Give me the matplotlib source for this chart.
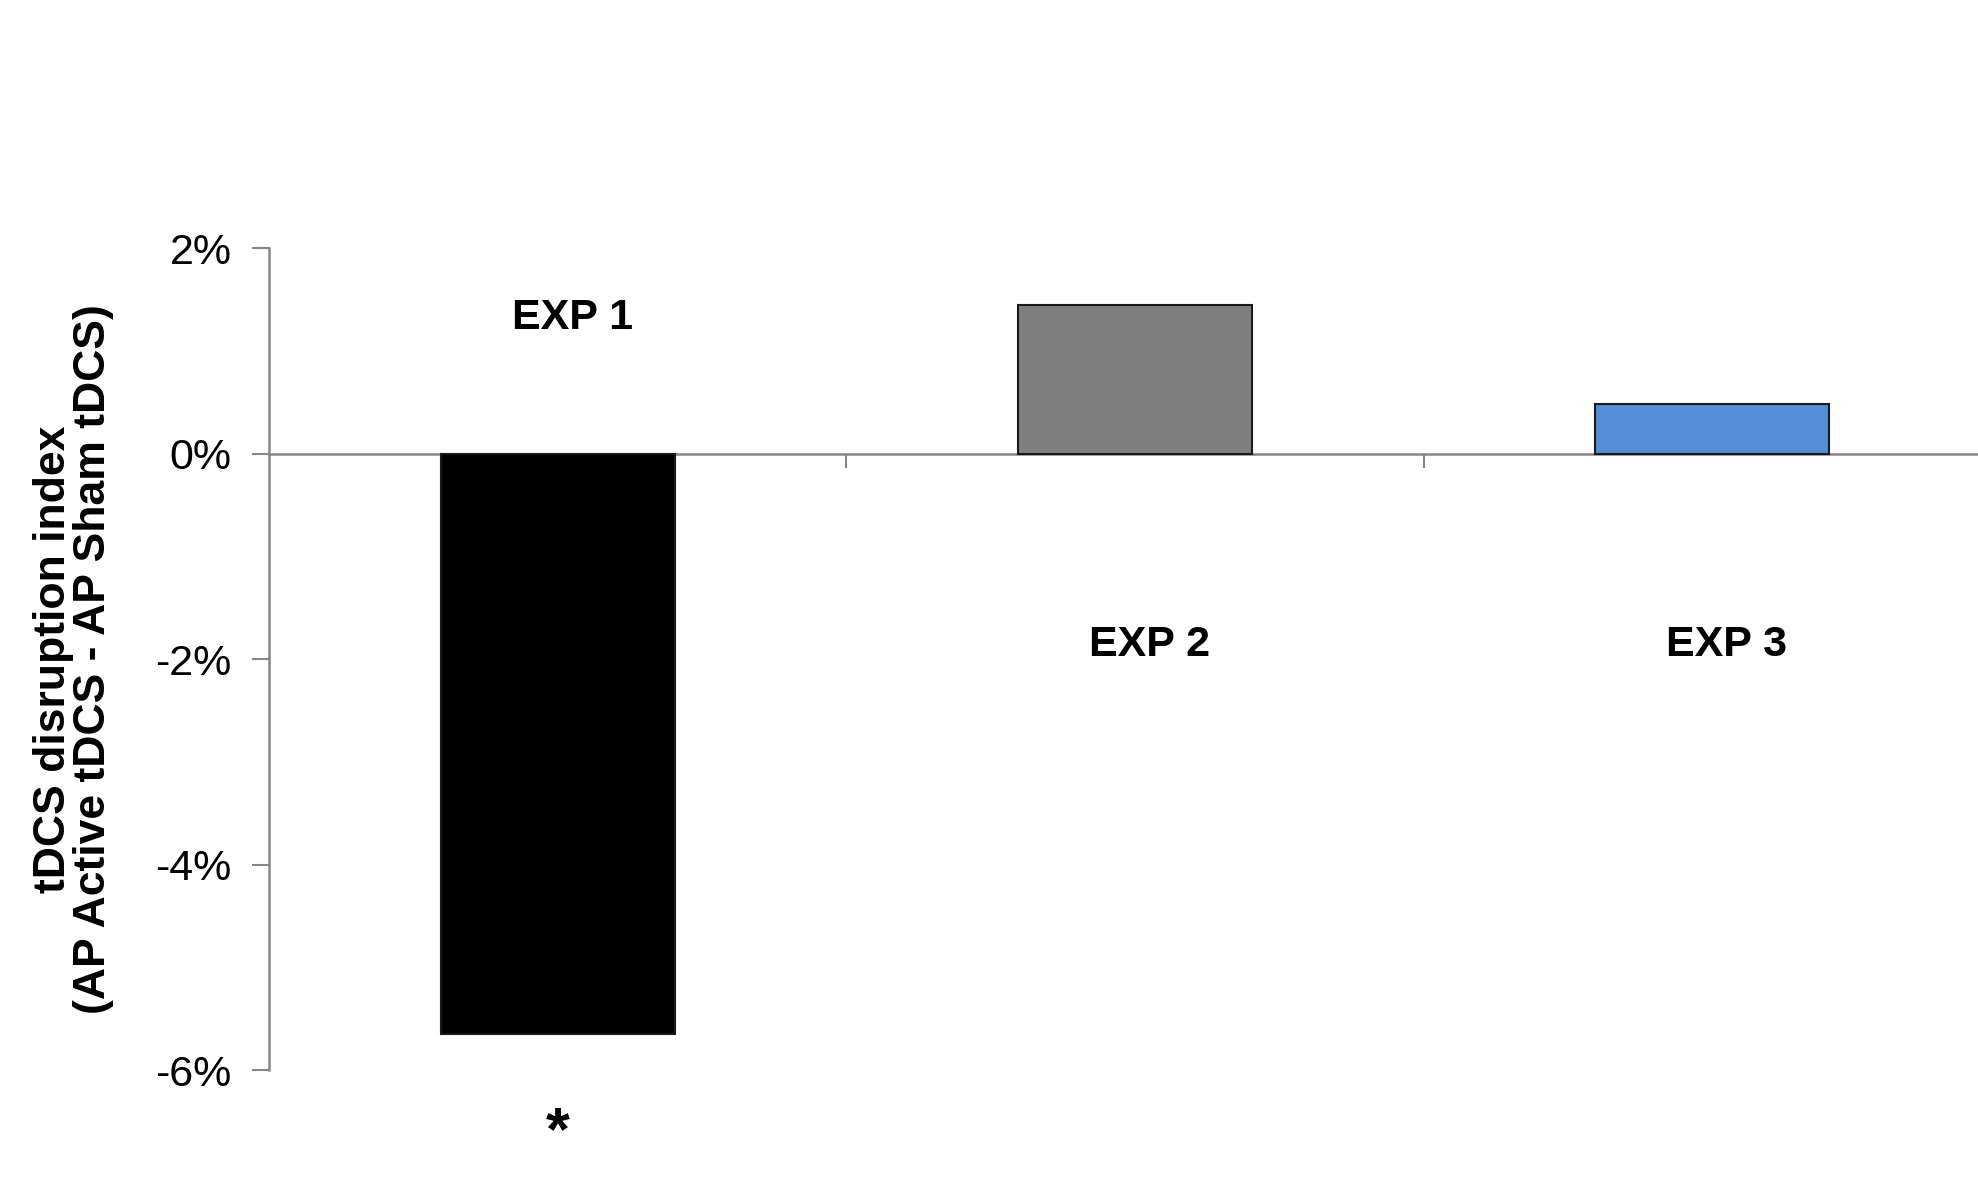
import matplotlib
matplotlib.use('Agg')
import matplotlib.pyplot as plt
from matplotlib.ticker import FuncFormatter

plt.rcParams['font.family'] = ['Liberation Sans', 'DejaVu Sans']

# data (percent)
experiments = ['EXP 1', 'EXP 2', 'EXP 3']
disruption = [-5.65, 1.45, 0.48]
bar_colors = ['#000000', '#7f7f7f', '#558ed5']
# where the category names sit (above or below the zero line)
label_y = [1.32, -1.86, -1.86]
y_ticks = [-6, -4, -2, 0, 2]

AXIS_GREY = '#868686'

fig = plt.figure(figsize=(19.78, 11.93), dpi=100)
ax = fig.add_axes([0.136, 0.1031, 0.8756, 0.689])

x = list(range(len(experiments)))
ax.bar(x, disruption, width=0.405, color=bar_colors,
       edgecolor='#1a1a1a', linewidth=1.5, zorder=3)

ax.set_xlim(-0.5, 2.5)
ax.set_ylim(-6, 2)

# x axis runs along zero, ticks between categories
ax.spines['bottom'].set_position(('data', 0))
ax.spines['top'].set_visible(False)
ax.spines['right'].set_visible(False)
for side in ['bottom', 'left']:
    ax.spines[side].set_color(AXIS_GREY)
    ax.spines[side].set_linewidth(1.8)
    ax.spines[side].set_zorder(2)

ax.set_xticks([0.5, 1.5])
ax.set_xticklabels([])
ax.tick_params(axis='x', direction='out', length=10, width=1.5, color=AXIS_GREY)

ax.set_yticks(y_ticks)
ax.yaxis.set_major_formatter(FuncFormatter(lambda v, p: '%d%%' % v))
ax.tick_params(axis='y', direction='out', length=12, width=1.5,
               color=AXIS_GREY, labelsize=31, pad=15)

for i, name in enumerate(experiments):
    ax.text(i + 0.025, label_y[i], name, ha='center', va='center',
            fontsize=31, fontweight='bold')

# significance mark under EXP 1
ax.text(0, -6.62, '*', ha='center', va='center', fontsize=44,
        fontweight='bold', clip_on=False)

ax.set_ylabel('tDCS disruption index\n(AP Active tDCS - AP Sham tDCS)',
              fontsize=32, fontweight='bold', labelpad=30, linespacing=0.97)

fig.savefig('out.png', dpi=100, facecolor='white')
